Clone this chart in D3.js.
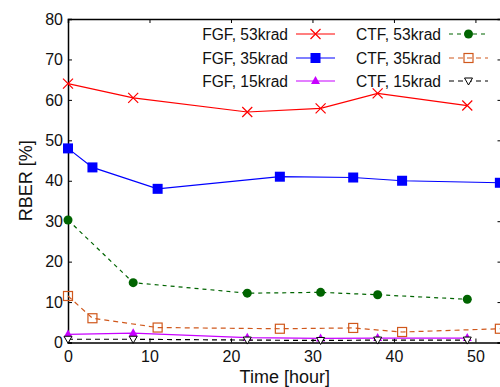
<!DOCTYPE html>
<html>
<head>
<meta charset="utf-8">
<script src="https://cdn.jsdelivr.net/npm/d3@7"></script>
<style>
  body { margin: 0; background: #fff; }
  text { font-family: "Liberation Sans", Arial, Helvetica, sans-serif; fill: #111; }
</style>
</head>
<body>
<div id="chart"></div>
<script>
// hours at which each series was measured
const hoursA = [0, 8, 22, 31, 38, 49];
const hoursB = [0, 3, 11, 26, 35, 41, 53];

const fgf53 = [64, 60.5, 57, 57.9, 61.6, 58.6];
const fgf35 = [48, 43.3, 38, 41, 40.8, 40, 39.5];
const fgf15 = [2.0, 2.3, 1.2, 1.0, 1.1, 1.1];
const ctf53 = [30.3, 14.8, 12.2, 12.4, 11.8, 10.7];
const ctf35 = [11.5, 6, 3.7, 3.4, 3.6, 2.6, 3.4];
const ctf15 = [0.8, 0.8, 0.6, 0.5, 0.6, 0.6];

const xTicks = [0, 10, 20, 30, 40, 50];
const yTicks = [0, 10, 20, 30, 40, 50, 60, 70, 80];

const series = [
  { name: 'FGF, 53krad', x: hoursA, y: fgf53, color: '#ff0000', dash: null, marker: 'x' },
  { name: 'FGF, 35krad', x: hoursB, y: fgf35, color: '#0000ff', dash: null, marker: 'square' },
  { name: 'FGF, 15krad', x: hoursA, y: fgf15, color: '#c800ff', dash: null, marker: 'tri' },
  { name: 'CTF, 53krad', x: hoursA, y: ctf53, color: '#006400', dash: '4,4', marker: 'dot' },
  { name: 'CTF, 35krad', x: hoursB, y: ctf35, color: '#d0581c', dash: '5,4', marker: 'osquare' },
  { name: 'CTF, 15krad', x: hoursA, y: ctf15, color: '#000000', dash: '5,4', marker: 'dtri' }
];

const width = 500, height = 387;
const plotLeft = 68, plotRight = 501.5, plotTop = 19, plotBottom = 342.5;

const svg = d3.select('#chart').append('svg')
  .attr('width', width)
  .attr('height', height);

const x = d3.scaleLinear().domain([0, 53.2]).range([plotLeft, plotRight]);
const y = d3.scaleLinear().domain([0, 80]).range([plotBottom, plotTop]);

// axes with short inward ticks, labels outside
svg.append('g')
  .attr('transform', 'translate(0,' + plotBottom + ')')
  .call(d3.axisBottom(x).tickValues(xTicks).tickSize(-4).tickPadding(8).tickFormat(d3.format('d')));
const leftAxis = svg.append('g')
  .attr('transform', 'translate(' + plotLeft + ',0)')
  .call(d3.axisLeft(y).tickValues(yTicks).tickSize(-4).tickPadding(8).tickFormat(d3.format('d')));
svg.append('g')
  .attr('transform', 'translate(0,' + plotTop + ')')
  .call(d3.axisTop(x).tickValues(xTicks).tickSize(-4).tickFormat(''));
svg.append('g')
  .attr('transform', 'translate(' + plotRight + ',0)')
  .call(d3.axisRight(y).tickValues(yTicks).tickSize(-4).tickFormat(''));

svg.selectAll('.domain').attr('stroke', '#000').attr('stroke-width', 1.5);
svg.selectAll('.tick line').attr('stroke', '#000');
svg.selectAll('.tick text')
  .style('font-size', '16px')
  .style('font-family', '"Liberation Sans", Arial, sans-serif')
  .attr('fill', '#111');
leftAxis.selectAll('.tick text').attr('dx', '3px');

svg.append('text')
  .attr('x', (plotLeft + plotRight) / 2)
  .attr('y', 383)
  .attr('text-anchor', 'middle')
  .style('font-size', '18px')
  .text('Time [hour]');

svg.append('text')
  .attr('transform', 'translate(32,' + ((plotTop + plotBottom) / 2) + ') rotate(-90)')
  .attr('text-anchor', 'middle')
  .style('font-size', '18px')
  .text('RBER [%]');

function drawMarker(g, type, color, cx, cy) {
  if (type === 'x') {
    g.append('path')
      .attr('d', 'M' + (cx - 5) + ',' + (cy - 5) + 'L' + (cx + 5) + ',' + (cy + 5) +
        'M' + (cx - 5) + ',' + (cy + 5) + 'L' + (cx + 5) + ',' + (cy - 5))
      .attr('stroke', color).attr('stroke-width', 1.2).attr('fill', 'none');
  } else if (type === 'square') {
    g.append('rect').attr('x', cx - 5).attr('y', cy - 5).attr('width', 10).attr('height', 10)
      .attr('fill', color);
  } else if (type === 'osquare') {
    g.append('rect').attr('x', cx - 4.5).attr('y', cy - 4.5).attr('width', 9).attr('height', 9)
      .attr('fill', 'none').attr('stroke', color).attr('stroke-width', 1.2);
  } else if (type === 'dot') {
    g.append('circle').attr('cx', cx).attr('cy', cy).attr('r', 4.5).attr('fill', color);
  } else if (type === 'tri') {
    g.append('path')
      .attr('d', 'M' + cx + ',' + (cy - 5) + 'L' + (cx + 4.5) + ',' + (cy + 3) + 'L' + (cx - 4.5) + ',' + (cy + 3) + 'Z')
      .attr('fill', color);
  } else if (type === 'dtri') {
    g.append('path')
      .attr('d', 'M' + cx + ',' + (cy + 4) + 'L' + (cx + 4) + ',' + (cy - 3) + 'L' + (cx - 4) + ',' + (cy - 3) + 'Z')
      .attr('fill', '#fff').attr('stroke', color).attr('stroke-width', 1);
  }
}

const line = d3.line();

series.forEach(s => {
  const pts = s.x.map((h, i) => [x(h), y(s.y[i])]);
  const g = svg.append('g');
  g.append('path')
    .attr('d', line(pts))
    .attr('fill', 'none')
    .attr('stroke', s.color)
    .attr('stroke-width', 1.2)
    .attr('stroke-dasharray', s.dash);
  pts.forEach(p => drawMarker(g, s.marker, s.color, p[0], p[1]));
});

// legend, two columns of three
const legendRows = [34, 58, 81];
series.forEach((s, i) => {
  const col = Math.floor(i / 3);
  const textRight = col === 0 ? 288 : 441;
  const ly = legendRows[i % 3];
  const g = svg.append('g');
  g.append('text')
    .attr('x', textRight)
    .attr('y', ly + 5.5)
    .attr('text-anchor', 'end')
    .style('font-size', '15.6px')
    .text(s.name);
  g.append('line')
    .attr('x1', textRight + 8).attr('x2', textRight + 47)
    .attr('y1', ly).attr('y2', ly)
    .attr('stroke', s.color)
    .attr('stroke-width', 1.2)
    .attr('stroke-dasharray', s.dash);
  drawMarker(g, s.marker, s.color, textRight + 27.5, ly);
});
</script>
</body>
</html>
